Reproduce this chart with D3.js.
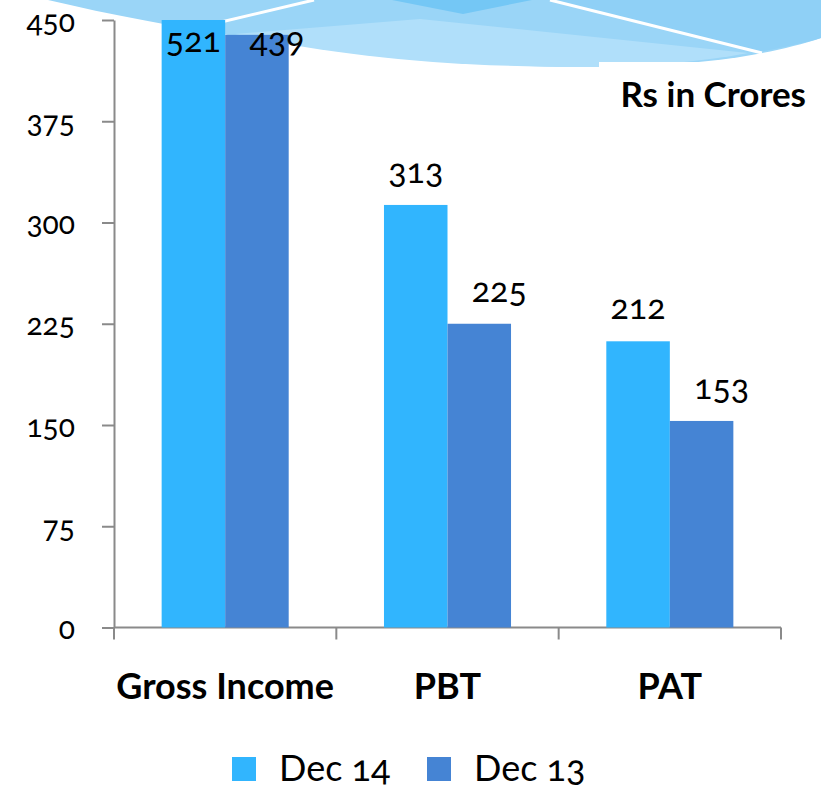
<!DOCTYPE html>
<html>
<head>
<meta charset="utf-8">
<script src="https://cdn.jsdelivr.net/npm/d3@7/dist/d3.min.js"></script>
<style>
  html, body { margin: 0; padding: 0; background: #ffffff; }
  svg { display: block; }
  .num { font-family: Lato, "Open Sans", sans-serif; font-variant-numeric: oldstyle-nums; fill: #000; }
  .bold { font-family: Lato, "Open Sans", sans-serif; font-weight: bold; fill: #000; }
</style>
</head>
<body>
<svg id="chart" width="821" height="789"></svg>
<script>
// Financial highlights, Rs in crores
const categories = ["Gross Income", "PBT", "PAT"];
const seriesNames = ["Dec 14", "Dec 13"];
const dec14 = [521, 313, 212];
const dec13 = [439, 225, 153];
const yTicks = [0, 75, 150, 225, 300, 375, 450];
const seriesColors = ["#31b5fe", "#4584d4"];
const unitLabel = "Rs in Crores";

const plot = { left: 114, right: 781, top: 20, bottom: 627.5 };

const svg = d3.select("#chart");

// ---- decorative header wave ----
const deco = svg.append("g");
deco.append("path")
  .attr("d", "M48,0 C200,36 420,68 600,67 C700,66 770,55 821,38 L821,0 Z")
  .attr("fill", "#9ad5f7");
deco.append("path")
  .attr("d", "M235,34 L420,19 L748,53 C700,62 650,66 600,67 C430,68 320,52 235,34 Z")
  .attr("fill", "#b0dffa");
deco.append("path")
  .attr("d", "M392,0 L463,14 L532,0 Z")
  .attr("fill", "#74c7f5");
deco.append("path")
  .attr("d", "M555,0 L760,52 C790,46 808,42 821,38 L821,0 Z")
  .attr("fill", "#8fd0f6");
deco.append("line").attr("x1", 200).attr("y1", 27).attr("x2", 314).attr("y2", 0)
  .attr("stroke", "#fff").attr("stroke-width", 3);
deco.append("line").attr("x1", 550).attr("y1", 0).attr("x2", 762).attr("y2", 53)
  .attr("stroke", "#fff").attr("stroke-width", 3);
// white text box behind the unit label
deco.append("rect").attr("x", 599).attr("y", 62).attr("width", 222).attr("height", 60).attr("fill", "#fff");

// ---- scales ----
const x = d3.scaleBand().domain(categories).range([plot.left, plot.right]).paddingInner(0).paddingOuter(0);
const xs = d3.scaleBand().domain(seriesNames).range([0, x.bandwidth()]).paddingInner(0).paddingOuter(0.75);
const y = d3.scaleLinear().domain([0, 450]).range([plot.bottom, plot.top]).clamp(true);

const rows = categories.map((c, i) => ({ cat: c, values: [dec14[i], dec13[i]] }));

// ---- axes ----
const axisColor = "#8a8a8a";
const yAxis = svg.append("g")
  .attr("transform", `translate(${plot.left},0)`)
  .call(d3.axisLeft(y).tickValues(yTicks).tickSize(12).tickSizeOuter(0).tickPadding(27).tickFormat(d3.format("d")));
yAxis.select(".domain").attr("stroke", axisColor).attr("stroke-width", 2);
yAxis.selectAll(".tick line").attr("stroke", axisColor).attr("stroke-width", 2);
yAxis.selectAll(".tick text").attr("class", "num").attr("font-size", 30).attr("dy", "0.37em");

// x axis baseline and category boundary ticks
const xAxis = svg.append("g").attr("transform", `translate(0,${plot.bottom})`);
xAxis.append("line").attr("x1", plot.left).attr("x2", plot.right).attr("y1", 0).attr("y2", 0)
  .attr("stroke", axisColor).attr("stroke-width", 2);
const bounds = categories.map(c => x(c)).concat([x(categories[categories.length - 1]) + x.bandwidth()]);
xAxis.selectAll("line.b").data(bounds).join("line").attr("class", "b")
  .attr("x1", d => d).attr("x2", d => d).attr("y1", 0).attr("y2", 12)
  .attr("stroke", axisColor).attr("stroke-width", 2);
xAxis.selectAll("text.cat").data(categories).join("text").attr("class", "bold cat")
  .attr("x", d => x(d) + x.bandwidth() / 2).attr("y", 71)
  .attr("text-anchor", "middle").attr("font-size", 36).text(d => d);

// ---- bars ----
const groups = svg.append("g").selectAll("g").data(rows).join("g")
  .attr("transform", d => `translate(${x(d.cat)},0)`);
groups.selectAll("rect").data(d => d.values.map((v, k) => ({ v, s: seriesNames[k], k }))).join("rect")
  .attr("x", d => xs(d.s)).attr("width", xs.bandwidth())
  .attr("y", d => y(d.v)).attr("height", d => y(0) - y(d.v))
  .attr("fill", d => seriesColors[d.k]);

// value labels above each bar (kept inside the chart when a bar runs past the axis top)
const labelShift = [0, 20];
groups.selectAll("text").data(d => d.values.map((v, k) => ({ v, s: seriesNames[k], k }))).join("text")
  .attr("class", "num")
  .attr("x", d => xs(d.s) + xs.bandwidth() / 2 + labelShift[d.k])
  .attr("y", d => Math.max(y(d.v) - 22, 52))
  .attr("text-anchor", "middle").attr("font-size", 34)
  .text(d => d.v);

// ---- unit label ----
svg.append("text").attr("class", "bold").attr("x", 806).attr("y", 107)
  .attr("text-anchor", "end").attr("font-size", 35).text(unitLabel);

// ---- legend ----
const legendX = [232, 427];
const legend = svg.append("g").selectAll("g").data(seriesNames).join("g")
  .attr("transform", (d, i) => `translate(${legendX[i]},757)`);
legend.append("rect").attr("width", 24).attr("height", 24).attr("fill", (d, i) => seriesColors[i]);
legend.append("text").attr("class", "num").attr("x", 47).attr("y", 24)
  .attr("font-size", 36).text(d => d);
</script>
</body>
</html>
